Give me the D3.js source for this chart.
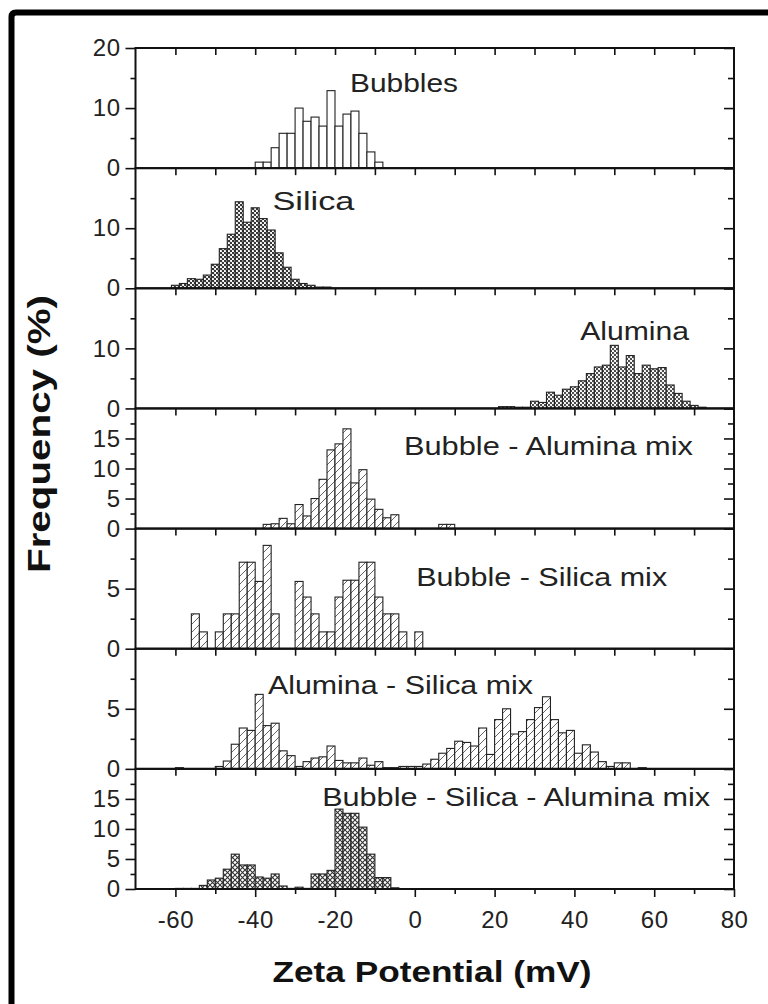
<!DOCTYPE html>
<html><head><meta charset="utf-8">
<script src="https://cdn.jsdelivr.net/npm/d3@7"></script>
<style>
body{margin:0;background:#fff;}
svg{display:block;font-family:"Liberation Sans",Arial,Helvetica,sans-serif;}
</style></head><body>
<svg id="chart" width="768" height="1004"></svg>
<script>
// ---------------- DATA ----------------
const panelNames = ["Bubbles","Silica","Alumina","Bubble - Alumina mix","Bubble - Silica mix","Alumina - Silica mix","Bubble - Silica - Alumina mix"];
const binWidth = 2; // mV
const xDomain = [-70, 80];
const xMajorTicks = [-60,-40,-20,0,20,40,60,80];
const xMinorTicks = [-50,-30,-10,10,30,50,70];
const xTopTicks = [-60,-50,-40,-30,-20,-10,0,10,20,30,40,50,60,70];
const yMaxes = [20,20,20,20,10,10,20];
const yMajorTicks = [[0,10,20],[0,10,20],[0,10,20],[0,5,10,15,20],[0,5,10],[0,5,10],[0,5,10,15,20]];
const yTickLabels = [[0,10,20],[0,10],[0,10],[0,5,10,15],[0,5],[0,5],[0,5,10,15]];
const yMinorTicks = [[5,15],[5,15],[5,15],[2.5,7.5,12.5,17.5],[2.5,7.5],[2.5,7.5],[2.5,7.5,12.5,17.5]];

// bin left edges (mV) and frequencies (%)
const bubblesBins = [-40,-38,-36,-34,-32,-30,-28,-26,-24,-22,-20,-18,-16,-14,-12,-10];
const bubblesFreq = [1.0,1.0,3.4,5.8,5.8,10.0,7.8,8.5,7.0,12.9,7.0,9.0,9.5,5.8,2.7,1.0];

const silicaBins = [-61,-59,-57,-55,-53,-51,-49,-47,-45,-43,-41,-39,-37,-35,-33,-31,-29,-27,-25,-23];
const silicaFreq = [0.5,0.8,1.6,1.5,2.2,4.0,6.6,9.0,14.4,11.0,13.4,11.6,9.7,5.9,3.5,1.5,0.8,0.5,0.2,0.2];

const aluminaBins = [21,23,25,27,29,31,33,35,37,39,41,43,45,47,49,51,53,55,57,59,61,63,65,67,69,71];
const aluminaFreq = [0.3,0.3,0.2,0.2,1.2,1.0,2.7,2.2,3.2,3.6,4.6,5.8,6.9,7.2,10.5,6.9,8.8,5.8,7.2,6.6,6.8,3.9,2.5,1.2,0.5,0.2];

const bubAluBins = [-38,-36,-34,-32,-30,-28,-26,-24,-22,-20,-18,-16,-14,-12,-10,-8,-6,6,8];
const bubAluFreq = [0.7,0.8,1.7,0.8,4.0,2.1,5.0,8.2,13.1,14.1,16.6,7.6,9.8,4.9,3.2,1.8,2.3,0.7,0.7];

const bubSilBins = [-56,-54,-50,-48,-46,-44,-42,-40,-38,-36,-30,-28,-26,-24,-22,-20,-18,-16,-14,-12,-10,-8,-6,-4,0];
const bubSilFreq = [2.9,1.4,1.4,2.9,2.9,7.2,7.2,5.6,8.6,2.9,5.6,4.3,2.9,1.4,1.4,4.3,5.7,5.7,7.2,7.2,4.3,2.9,2.9,1.4,1.4];

const aluSilBins = [-60,-50,-48,-46,-44,-42,-40,-38,-36,-34,-32,-30,-28,-26,-24,-22,-20,-18,-16,-14,-12,-10,-8,-6,-4,-2,0,2,4,6,8,10,12,14,16,18,20,22,24,26,28,30,32,34,36,38,40,42,44,46,48,50,52,56];
const aluSilFreq = [0.1,0.2,0.65,2.05,3.4,3.2,6.2,3.6,3.8,1.5,1.1,0.2,0.6,0.9,1.0,1.9,0.7,0.5,0.5,0.9,0.3,0.6,0.1,0.1,0.2,0.2,0.2,0.4,0.8,1.3,1.7,2.3,2.2,1.9,3.4,1.2,4.1,5.0,2.9,3.1,4.1,5.1,6.0,4.1,3.0,3.2,1.3,2.0,1.4,0.6,0.2,0.5,0.5,0.1];

const bsaBins = [-60,-58,-56,-54,-52,-50,-48,-46,-44,-42,-40,-38,-36,-34,-32,-30,-28,-26,-24,-22,-20,-18,-16,-14,-12,-10,-8,-6];
const bsaFreq = [0.1,0.1,0.1,0.6,1.5,1.8,3.3,5.8,4.0,4.0,2.0,1.8,2.5,0.5,0.1,0.3,0.1,2.5,2.5,3.1,13.3,12.6,12.6,10.3,5.8,1.9,1.9,0.2];

const seriesBins = [bubblesBins, silicaBins, aluminaBins, bubAluBins, bubSilBins, aluSilBins, bsaBins];
const seriesFreq = [bubblesFreq, silicaFreq, aluminaFreq, bubAluFreq, bubSilFreq, aluSilFreq, bsaFreq];

// ---------------- LAYOUT / STYLE ----------------
const W = 768, H = 1004;
const plotL = 135.5, plotR = 734, plotT = 48, plotB = 889;
const panelFills = ["#fff","url(#dots)","url(#dots2)","url(#hatch)","url(#hatch)","url(#hatch)","url(#cross)"];
// label placement: center (mV), baseline (% of panel), width (px)
const labelLayout = [[-2.7,12.6,108],[-25.4,13.0,82],[55.1,11.4,109],[33.5,12.3,289],[31.8,5.2,251],[-3.6,6.2,265],[25.4,13.9,388]];

const svg = d3.select("#chart");
const defs = svg.append("defs");
// dotted pattern
let p = defs.append("pattern").attr("id","dots").attr("width",4).attr("height",4).attr("patternUnits","userSpaceOnUse");
p.append("rect").attr("width",4).attr("height",4).attr("fill","#fff");
p.append("circle").attr("cx",1).attr("cy",1).attr("r",1.25).attr("fill","#333");
p.append("circle").attr("cx",3).attr("cy",3).attr("r",1.25).attr("fill","#333");
p = defs.append("pattern").attr("id","dots2").attr("width",4).attr("height",4).attr("patternUnits","userSpaceOnUse");
p.append("rect").attr("width",4).attr("height",4).attr("fill","#fff");
p.append("circle").attr("cx",1).attr("cy",1).attr("r",1.15).attr("fill","#444");
p.append("circle").attr("cx",3).attr("cy",3).attr("r",1.15).attr("fill","#444");
// hatch
p = defs.append("pattern").attr("id","hatch").attr("width",8).attr("height",8).attr("patternUnits","userSpaceOnUse");
p.append("rect").attr("width",8).attr("height",8).attr("fill","#fff");
p.append("path").attr("d","M-2,10 L10,-2 M-2,2 L2,-2 M6,10 L10,6").attr("stroke","#555").attr("stroke-width",0.9);
// cross hatch
p = defs.append("pattern").attr("id","cross").attr("width",5).attr("height",5).attr("patternUnits","userSpaceOnUse");
p.append("rect").attr("width",5).attr("height",5).attr("fill","#fff");
p.append("path").attr("d","M0,0 L5,5 M5,0 L0,5").attr("stroke","#333").attr("stroke-width",1.1);

// outer frame (left and top edges of the figure border)
svg.append("path").attr("d",`M11.5,${H+5} V17 Q11.5,12.5 16,12.5 H${W+5}`)
  .attr("fill","none").attr("stroke","#000").attr("stroke-width",6);

const x = d3.scaleLinear().domain(xDomain).range([plotL, plotR]);
const ph = (plotB - plotT) / panelNames.length;
const fmt = d => String(d);

function styleAxis(g){
  g.select(".domain").remove();
  g.selectAll("line").attr("stroke","#111").attr("stroke-width",1.6);
  g.selectAll("text").attr("font-size",24).attr("fill","#222").attr("letter-spacing","0.5px");
}

panelNames.forEach((name,i)=>{
  const top = plotT + i*ph, bot = top + ph;
  const y = d3.scaleLinear().domain([0, yMaxes[i]]).range([bot, top]);
  const g = svg.append("g");
  const data = d3.zip(seriesBins[i], seriesFreq[i]);
  g.selectAll("rect.bar").data(data).join("rect").attr("class","bar")
    .attr("x", d=>x(d[0]))
    .attr("width", d=>x(d[0]+binWidth)-x(d[0]))
    .attr("y", d=>y(d[1]))
    .attr("height", d=>y(0)-y(d[1]))
    .attr("fill", panelFills[i])
    .attr("stroke","#222").attr("stroke-width",1.1);

  // left axis (outward ticks)
  g.append("g").attr("transform",`translate(${plotL},0)`)
    .call(d3.axisLeft(y).tickValues(yTickLabels[i]).tickSize(10).tickPadding(5).tickFormat(fmt))
    .call(styleAxis);
  g.append("g").attr("transform",`translate(${plotL},0)`)
    .call(d3.axisLeft(y).tickValues(yMinorTicks[i]).tickSize(5).tickFormat(""))
    .call(styleAxis);
  // right axis (inward ticks)
  g.append("g").attr("transform",`translate(${plotR},0)`)
    .call(d3.axisRight(y).tickValues(yMajorTicks[i]).tickSize(-10).tickFormat(""))
    .call(styleAxis);
  g.append("g").attr("transform",`translate(${plotR},0)`)
    .call(d3.axisRight(y).tickValues(yMinorTicks[i]).tickSize(-6).tickFormat(""))
    .call(styleAxis);
  // top ticks pointing into panel
  g.append("g").attr("transform",`translate(0,${top})`)
    .call(d3.axisTop(x).tickValues(xTopTicks).tickSize(-7).tickFormat(""))
    .call(styleAxis);

  // panel frame
  g.append("rect").attr("x",plotL).attr("y",top).attr("width",plotR-plotL).attr("height",ph)
    .attr("fill","none").attr("stroke","#111").attr("stroke-width",2);

  // label
  const lp = labelLayout[i];
  g.append("text").attr("x", x(lp[0])).attr("y", y(lp[1]))
    .attr("text-anchor","middle").attr("font-size",26).attr("fill","#222")
    .attr("textLength", lp[2]).attr("lengthAdjust","spacingAndGlyphs")
    .text(name);
});

// bottom axis
svg.append("g").attr("transform",`translate(0,${plotB})`)
  .call(d3.axisBottom(x).tickValues(xMajorTicks).tickSize(8).tickPadding(14).tickFormat(fmt))
  .call(styleAxis);
svg.append("g").attr("transform",`translate(0,${plotB})`)
  .call(d3.axisBottom(x).tickValues(xMinorTicks).tickSize(5).tickFormat(""))
  .call(styleAxis);

// axis titles
svg.append("text").attr("x", 432).attr("y", 982).attr("text-anchor","middle")
  .attr("font-size",30).attr("font-weight","bold").attr("fill","#111")
  .attr("textLength",319).attr("lengthAdjust","spacingAndGlyphs")
  .text("Zeta Potential (mV)");
svg.append("text").attr("transform","translate(50,434) rotate(-90)").attr("text-anchor","middle")
  .attr("font-size",32).attr("font-weight","bold").attr("fill","#111")
  .attr("textLength",278).attr("lengthAdjust","spacingAndGlyphs")
  .text("Frequency (%)");
</script>
</body></html>
